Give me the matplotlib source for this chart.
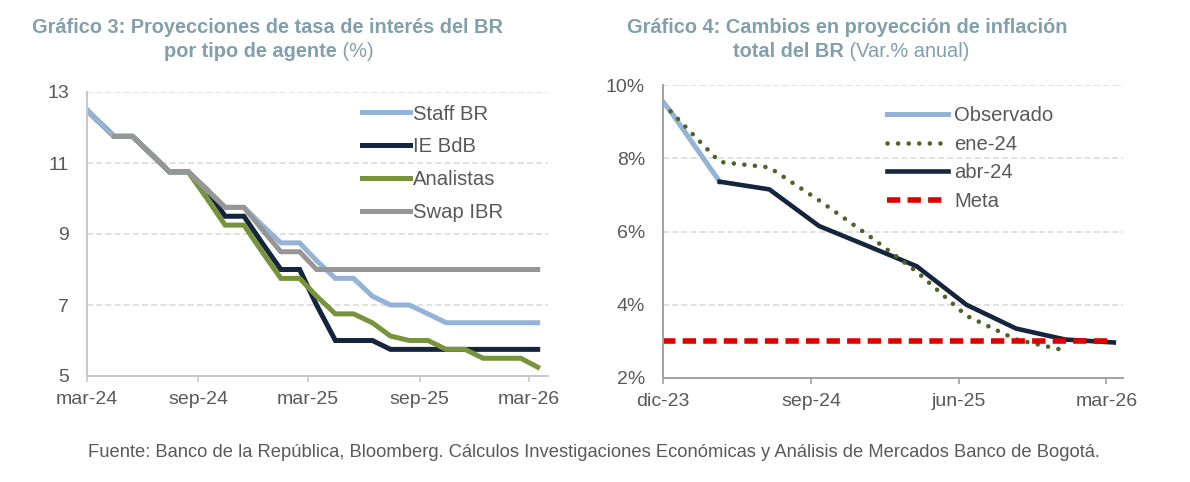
import numpy as np
import pandas as pd
import matplotlib
matplotlib.use('Agg')
import matplotlib.pyplot as plt

# ---------------- data ----------------
# Gráfico 3: monthly policy-rate paths (%), Feb-2024 .. Mar-2026
rate_start, rate_end = '2024-02', '2026-03'
staff_br = [12.75, 12.25, 11.75, 11.75, 11.25, 10.75, 10.75, 10.25, 9.75, 9.75, 9.25, 8.75, 8.75,
            8.25, 7.75, 7.75, 7.25, 7.0, 7.0, 6.75, 6.5, 6.5, 6.5, 6.5, 6.5, 6.5]
ie_bdb = [12.75, 12.25, 11.75, 11.75, 11.25, 10.75, 10.75, 10.25, 9.5, 9.5, 8.75, 8.0, 8.0,
          7.0, 6.0, 6.0, 6.0, 5.75, 5.75, 5.75, 5.75, 5.75, 5.75, 5.75, 5.75, 5.75]
analistas = [12.75, 12.25, 11.75, 11.75, 11.25, 10.75, 10.75, 10.0, 9.25, 9.25, 8.5, 7.75, 7.75,
             7.25, 6.75, 6.75, 6.5, 6.125, 6.0, 6.0, 5.75, 5.75, 5.5, 5.5, 5.5, 5.25]
swap_start = '2024-04'
swap_ibr = [11.75, 11.75, 11.25, 10.75, 10.75, 10.25, 9.75, 9.75, 9.125, 8.5, 8.5,
            8.0, 8.0, 8.0, 8.0, 8.0, 8.0, 8.0, 8.0, 8.0, 8.0, 8.0, 8.0, 8.0]
rate_ticks = ['mar-24', 'sep-24', 'mar-25', 'sep-25', 'mar-26']
rate_names = ['Staff BR', 'IE BdB', 'Analistas', 'Swap IBR']

# Gráfico 4: quarterly inflation (% annual)
obs_q = ['2023-09', '2023-12', '2024-03']
observado = [10.99, 9.28, 7.36]
ene_q = ['2023-12', '2024-03', '2024-06', '2024-09', '2024-12', '2025-03', '2025-06', '2025-09', '2025-12']
ene_24 = [9.28, 7.90, 7.75, 6.85, 5.90, 4.90, 3.70, 3.05, 2.75]
abr_q = ['2024-03', '2024-06', '2024-09', '2024-12', '2025-03', '2025-06', '2025-09', '2025-12', '2026-03']
abr_24 = [7.36, 7.15, 6.15, 5.60, 5.05, 4.00, 3.35, 3.05, 2.97]
meta_q = ['2023-09', '2023-12', '2024-03', '2024-06', '2024-09', '2024-12', '2025-03', '2025-06',
          '2025-09', '2025-12', '2026-03']
meta = [3.0, 3.0, 3.0, 3.0, 3.0, 3.0, 3.0, 3.0, 3.0, 3.0, 3.0]
infl_ticks = ['dic-23', 'sep-24', 'jun-25', 'mar-26']
infl_names = ['Observado', 'ene-24', 'abr-24', 'Meta']

title3_bold = ['Gráfico 3: Proyecciones de tasa de interés del BR', 'por tipo de agente']
title3_reg = '(%)'
title4_bold = ['Gráfico 4: Cambios en proyección de inflación', 'total del BR']
title4_reg = '(Var.% anual)'
footer = ('Fuente: Banco de la República, Bloomberg. Cálculos Investigaciones Económicas y '
          'Análisis de Mercados Banco de Bogotá.')

# ---------------- helpers ----------------
MES = {'ene': 1, 'feb': 2, 'mar': 3, 'abr': 4, 'may': 5, 'jun': 6, 'jul': 7,
       'ago': 8, 'sep': 9, 'oct': 10, 'nov': 11, 'dic': 12}


def lab2date(s):
    m, y = s.split('-')
    return pd.Timestamp(2000 + int(y), MES[m], 1)


def mid(months):
    return [pd.Period(m, 'M').to_timestamp() + pd.Timedelta(days=14) for m in months]


def mrange(a, b):
    return [str(p) for p in pd.period_range(a, b, freq='M')]


plt.rcParams['font.family'] = ['Liberation Sans', 'DejaVu Sans']

TXT = '#595959'
TITLE = '#82A0AB'
GRID = '#D9D9D9'

fig = plt.figure(figsize=(11.9, 4.82), dpi=100)
W, H = 1190, 482


def px_axes(x0, x1, ytop, ybot):
    return fig.add_axes([x0 / W, 1 - ybot / H, (x1 - x0) / W, (ybot - ytop) / H])


def style(ax, spine_col):
    for s in ['top', 'right']:
        ax.spines[s].set_visible(False)
    for s in ['left', 'bottom']:
        ax.spines[s].set_color(spine_col)
        ax.spines[s].set_linewidth(1.4)
    ax.yaxis.grid(True, color=GRID, linestyle=(0, (4, 2)), linewidth=1.1)
    ax.set_axisbelow(True)
    ax.tick_params(axis='y', length=0, pad=13, labelsize=14, labelcolor=TXT)
    ax.tick_params(axis='x', length=4, width=1.2, color=spine_col, pad=7,
                   labelsize=14, labelcolor=TXT, direction='out')


# ---- Gráfico 3 ----
ax1 = px_axes(87, 548, 92, 376)
x_rate = mid(mrange(rate_start, rate_end))
x_swap = mid(mrange(swap_start, rate_end))
lw = 3.6
l_ie, = ax1.plot(x_rate, ie_bdb, color='#14253D', lw=lw, solid_joinstyle='miter')
l_an, = ax1.plot(x_rate, analistas, color='#77933C', lw=lw, solid_joinstyle='miter')
l_st, = ax1.plot(x_rate, staff_br, color='#95B3D7', lw=lw, solid_joinstyle='miter')
l_sw, = ax1.plot(x_swap, swap_ibr, color='#969696', lw=lw, solid_joinstyle='miter')
ax1.set_xlim(pd.Timestamp('2024-03-01'), pd.Timestamp('2026-04-01'))
ax1.set_ylim(5, 13)
ax1.set_yticks([5, 7, 9, 11, 13])
ax1.set_xticks([lab2date(t) for t in rate_ticks])
ax1.set_xticklabels(rate_ticks)
style(ax1, '#C8C8C8')
ax1.legend([l_st, l_ie, l_an, l_sw], rate_names, loc='upper left',
           bbox_to_anchor=(362 / W, 1 - 104.5 / H), bbox_transform=fig.transFigure,
           frameon=False, fontsize=14.6, handlelength=2.36, handletextpad=0.15,
           labelspacing=0.68, borderpad=0, borderaxespad=0, labelcolor=TXT)

# ---- Gráfico 4 ----
ax2 = px_axes(663, 1123, 85, 378)
o, = ax2.plot(mid(obs_q), observado, color='#95B3D7', lw=3.6)
a, = ax2.plot(mid(abr_q), abr_24, color='#14253D', lw=3.3)
e, = ax2.plot(mid(ene_q), ene_24, color='#4F6228', lw=3.3, linestyle=(0, (0.01, 2.3)),
              dash_capstyle='round')
m, = ax2.plot(mid(meta_q), meta, color='#E00000', lw=4.0, linestyle=(0, (2.4, 1.3)))
ax2.set_xlim(pd.Timestamp('2023-12-01'), pd.Timestamp('2026-04-01'))
ax2.set_ylim(2, 10)
ax2.set_yticks([2, 4, 6, 8, 10])
ax2.set_yticklabels([f'{v}%' for v in [2, 4, 6, 8, 10]])
ax2.set_xticks([lab2date(t) for t in infl_ticks])
ax2.set_xticklabels(infl_ticks)
style(ax2, '#A0A0A0')
ax2.legend([o, e, a, m], infl_names, loc='upper left',
           bbox_to_anchor=(887 / W, 1 - 106 / H), bbox_transform=fig.transFigure,
           frameon=False, fontsize=14.6, handlelength=3.0, handletextpad=0.3,
           labelspacing=0.48, borderpad=0, borderaxespad=0, labelcolor=TXT)

# ---- titles ----
renderer = fig.canvas.get_renderer()


def title_line(xc, ybase, bold, regular=None, size=14.4):
    t1 = fig.text(0, 1 - ybase / H, bold, fontsize=size, fontweight='bold', color=TITLE,
                  va='baseline', ha='left')
    parts = [t1]
    if regular:
        t2 = fig.text(0, 1 - ybase / H, ' ' + regular, fontsize=size, color=TITLE,
                      va='baseline', ha='left')
        parts.append(t2)
    widths = [p.get_window_extent(renderer).width for p in parts]
    x = xc - sum(widths) / 2
    for p, w in zip(parts, widths):
        p.set_x(x / W)
        x += w


title_line(268, 33, title3_bold[0])
title_line(269, 57, title3_bold[1], title3_reg)
title_line(847, 33, title4_bold[0])
title_line(851, 57, title4_bold[1], title4_reg)

fig.text(594 / W, 1 - 457 / H, footer, fontsize=13.25, color=TXT, ha='center', va='baseline')

fig.savefig('out.png', dpi=100)
